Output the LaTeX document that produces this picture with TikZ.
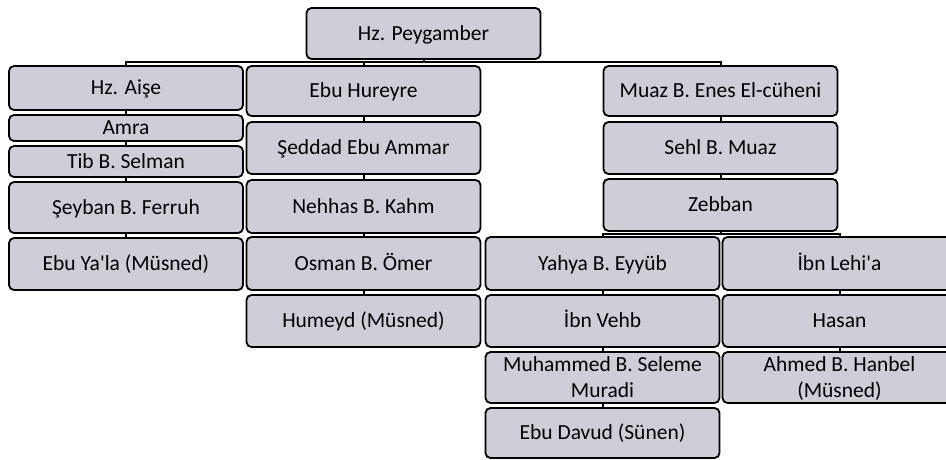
\documentclass[tikz,border=0pt]{standalone}
\usepackage{fontspec}
\setmainfont{Carlito}
\usepackage{tikz}
\usetikzlibrary{calc}
\definecolor{kutugri}{RGB}{207,206,216}
\tikzset{
	kutu/.style={draw=black, line width=1.8pt, rounded corners=5pt, fill=kutugri, inner sep=0pt, align=center, font=\fontsize{21.5}{26}\selectfont, text height=16pt, text depth=2.2pt},
	iki/.style={text height={}, text depth=-1.8pt},
	genis/.style={minimum width=234pt},
	baglanti/.style={line width=2pt},
}
\begin{document}
\begin{tikzpicture}[x=1pt,y=-1pt]
\clip (0,0) rectangle (946,459);
\node[kutu, genis, minimum height=51pt] (peygamber) at (423.5,33.5) {Hz. Peygamber};
\node[kutu, genis, minimum height=44pt] (aise) at (126,88) {Hz. Aişe};
\node[kutu, genis, minimum height=26pt] (amra) at (126,128) {Amra};
\node[kutu, genis, minimum height=31pt] (tib) at (126,161.5) {Tib B. Selman};
\node[kutu, genis, minimum height=51pt] (seyban) at (126,207.5) {Şeyban B. Ferruh};
\node[kutu, genis, minimum height=52pt] (yala) at (126,264) {Ebu Ya\textquotesingle la (Müsned)};
\node[kutu, genis, minimum height=50pt] (hureyre) at (363.5,91) {Ebu Hureyre};
\node[kutu, genis, minimum height=52pt] (seddad) at (363.5,148) {Şeddad Ebu Ammar};
\node[kutu, genis, minimum height=53pt] (nehhas) at (363.5,206.5) {Nehhas B. Kahm};
\node[kutu, genis, minimum height=53pt] (osman) at (363.5,263.5) {Osman B. Ömer};
\node[kutu, genis, minimum height=52pt] (humeyd) at (363.5,321) {Humeyd (Müsned)};
\node[kutu, genis, minimum height=50pt] (muaz) at (720.5,91) {Muaz B. Enes El-cüheni};
\node[kutu, genis, minimum height=52pt] (sehl) at (720.5,148) {Sehl B. Muaz};
\node[kutu, genis, minimum height=52pt] (zebban) at (720.5,205) {Zebban};
\node[kutu, genis, minimum height=53pt] (yahya) at (602.5,263.5) {Yahya B. Eyyüb};
\node[kutu, genis, minimum height=52pt] (vehb) at (602.5,321) {İbn Vehb};
\node[kutu, iki, genis, minimum height=51pt] (muhammed) at (602.5,377.5) {Muhammed B. Seleme\\Muradi};
\node[kutu, genis, minimum height=50pt] (davud) at (602.5,433) {Ebu Davud (Sünen)};
\node[kutu, genis, minimum height=53pt] (lehia) at (839.5,263.5) {İbn Lehi\textquotesingle a};
\node[kutu, genis, minimum height=52pt] (hasan) at (839.5,321) {Hasan};
\node[kutu, iki, genis, minimum height=51pt] (ahmed) at (839.5,377.5) {Ahmed B. Hanbel\\(Müsned)};
\coordinate (ustcizgi) at (423.5,62);
\coordinate (zebcizgi) at (720.5,234);
\draw[baglanti] (peygamber.south)--(ustcizgi);
\foreach \c in {aise,hureyre,muaz}
	\draw[baglanti] (ustcizgi) -| (\c.north);
\draw[baglanti] (zebban.south)--(zebcizgi);
\foreach \c in {yahya,lehia}
	\draw[baglanti] (zebcizgi) -| (\c.north);
\foreach \a/\b in {aise/amra,amra/tib,tib/seyban,seyban/yala,hureyre/seddad,seddad/nehhas,nehhas/osman,osman/humeyd,muaz/sehl,sehl/zebban,yahya/vehb,vehb/muhammed,muhammed/davud,lehia/hasan,hasan/ahmed}
	\draw[baglanti] (\a.south)--(\b.north);
\end{tikzpicture}
\end{document}
